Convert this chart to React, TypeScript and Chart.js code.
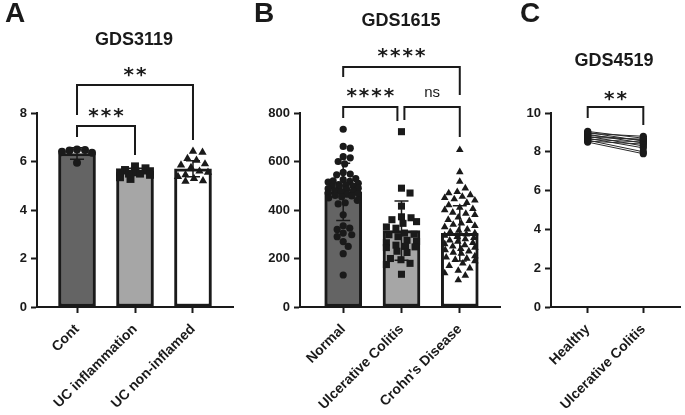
import React, { useEffect, useRef } from 'react';
import { Chart, registerables } from 'chart.js';

Chart.register(...registerables);

const FONT = '"Liberation Sans", Arial, Helvetica, sans-serif';
const INK = '#1a1a1a';

// ---------- Panel A : GDS3119 ----------
const catsA = ['Cont', 'UC inflammation', 'UC non-inflamed'];
const meansA = [6.33, 5.57, 5.7];
const sdsA = [0.24, 0.15, 0.33];
const contA = [6.47, 6.45, 6.5, 6.4, 6.36, 5.95];
const ucInflA = [5.8, 5.72, 5.65, 5.6, 5.58, 5.55, 5.5, 5.5, 5.45, 5.35, 5.28];
const ucNonA = [6.38, 6.42, 6.12, 6.05, 5.9, 5.85, 5.75, 5.6, 5.55, 5.45, 5.38, 5.3, 5.2, 5.18];
const ticksMaxA = 8;

// ---------- Panel B : GDS1615 ----------
const catsB = ['Normal', 'Ulcerative Colitis', "Crohn's Disease"];
const meansB = [475, 315, 304];
const sdsB = [118, 122, 114];
const normalB = [733, 662, 655, 620, 615, 600, 590, 555, 548, 545, 530, 525, 520, 518, 515, 510, 505, 502, 500, 498, 495, 490, 488, 485, 480, 478, 475, 470, 468, 465, 460, 458, 455, 450, 440, 430, 425, 380, 335, 325, 320, 305, 298, 290, 270, 250, 220, 132];
const ucB = [723, 490, 470, 416, 372, 368, 360, 352, 345, 330, 325, 305, 300, 298, 290, 275, 270, 265, 255, 250, 248, 245, 230, 225, 200, 195, 180, 175, 135];
const cdB = [648, 557, 517, 490, 475, 470, 462, 455, 450, 445, 440, 430, 420, 410, 405, 400, 390, 385, 380, 370, 360, 355, 345, 340, 335, 330, 320, 315, 310, 305, 300, 295, 290, 285, 280, 275, 270, 265, 260, 255, 250, 245, 240, 235, 230, 225, 220, 210, 205, 200, 195, 190, 180, 170, 160, 150, 140, 130, 111];
const ticksMaxB = 800;

// ---------- Panel C : GDS4519 ----------
const catsC = ['Healthy', 'Ulcerative Colitis'];
const healthyC = [9.05, 9.0, 8.95, 8.9, 8.85, 8.8, 8.75, 8.7, 8.65, 8.6, 8.55, 8.5];
const ucC = [8.7, 8.55, 8.8, 8.45, 8.6, 8.3, 8.65, 8.2, 8.5, 8.0, 8.4, 7.9];
const ticksMaxC = 10;

type Bracket = { x1: number; x2: number; top: number; l: number; r: number; text: string };
const bracketsA: Bracket[] = [
  { x1: 0, x2: 1, top: 7.46, l: 7.01, r: 6.27, text: '***' },
  { x1: 0, x2: 2, top: 9.155, l: 7.92, r: 6.89, text: '**' },
];
const bracketsB: Bracket[] = [
  { x1: 0, x2: 0.93, top: 825, l: 779, r: 767, text: '****' },
  { x1: 1.05, x2: 2, top: 825, l: 771, r: 701, text: 'ns' },
  { x1: 0, x2: 2, top: 990, l: 948, r: 874, text: '****' },
];
const bracketsC: Bracket[] = [{ x1: 0, x2: 1, top: 10.31, l: 9.74, r: 9.38, text: '**' }];

// deterministic beeswarm offsets (in category units)
function swarm(values: number[], pxPerY: number, pxPerX: number, r: number, maxPx: number): number[] {
  const order = values.map((_, i) => i).sort((a, b) => values[b] - values[a]);
  const placed: { x: number; y: number }[] = [];
  const out = new Array(values.length).fill(0);
  const cands: number[] = [0];
  for (let s = 0.5; s <= maxPx; s += 0.5) { cands.push(s, -s); }
  for (const i of order) {
    const y = values[i] * pxPerY;
    let best = 0;
    let bestScore = Infinity;
    for (const off of cands) {
      let overlap = 0;
      for (const p of placed) {
        const d = Math.hypot(p.x - off, p.y - y);
        if (d < 2 * r) overlap += 2 * r - d;
      }
      const score = overlap * 50 + Math.abs(off);
      if (score < bestScore) { bestScore = score; best = off; }
    }
    placed.push({ x: best, y });
    out[i] = best / pxPerX;
  }
  return out;
}

const bracketPlugin = {
  id: 'brackets',
  afterDraw(chart: any, _args: any, opts: any) {
    const list: Bracket[] = opts.list || [];
    const { ctx } = chart;
    const x = chart.scales.x;
    const y = chart.scales.y;
    ctx.save();
    ctx.strokeStyle = INK;
    ctx.fillStyle = INK;
    ctx.lineWidth = 2;
    for (const b of list) {
      const x1 = x.getPixelForValue(b.x1);
      const x2 = x.getPixelForValue(b.x2);
      const yt = y.getPixelForValue(b.top);
      const yl = y.getPixelForValue(b.l);
      const yr = y.getPixelForValue(b.r);
      ctx.beginPath();
      ctx.moveTo(x1, yl);
      ctx.lineTo(x1, yt);
      ctx.lineTo(x2, yt);
      ctx.lineTo(x2, yr);
      ctx.stroke();
      const star = b.text.indexOf('*') >= 0;
      ctx.font = star ? 'bold 20px "DejaVu Sans"' : `15px ${FONT}`;
      (ctx as any).letterSpacing = star ? '2px' : '0px';
      ctx.textAlign = 'center';
      ctx.textBaseline = 'alphabetic';
      const m = ctx.measureText(b.text);
      const cy = yt - (opts.gap || 13);
      ctx.fillText(b.text, (x1 + x2) / 2 + (star ? 1 : 0), cy + (m.actualBoundingBoxAscent - m.actualBoundingBoxDescent) / 2);
    }
    ctx.restore();
  },
};

const errorBarPlugin = {
  id: 'errbars',
  afterDatasetDraw(chart: any, args: any, opts: any) {
    if (!args.meta || args.meta.type !== 'bar') return;
    const means: number[] = opts.means || [];
    const sds: number[] = opts.sds || [];
    const { ctx } = chart;
    const x = chart.scales.x;
    const y = chart.scales.y;
    const cap = 7;
    ctx.save();
    ctx.strokeStyle = INK;
    ctx.lineWidth = 1.5;
    means.forEach((m, i) => {
      const px = x.getPixelForValue(i);
      const t = y.getPixelForValue(m + sds[i]);
      const bt = y.getPixelForValue(m - sds[i]);
      ctx.beginPath();
      ctx.moveTo(px, t);
      ctx.lineTo(px, bt);
      ctx.moveTo(px - cap, t);
      ctx.lineTo(px + cap, t);
      ctx.moveTo(px - cap, bt);
      ctx.lineTo(px + cap, bt);
      ctx.stroke();
    });
    ctx.restore();
  },
};

const gridCfg = {
  display: true,
  drawOnChartArea: false,
  drawTicks: true,
  tickLength: 6,
  tickWidth: 2,
  tickColor: INK,
  offset: false,
};
const borderCfg = { display: true, color: INK, width: 2 };

function xScale(min: number, max: number, cats: string[], axisH: number) {
  return {
    type: 'linear',
    min,
    max,
    offset: false,
    afterBuildTicks: (s: any) => { s.ticks = cats.map((_, i) => ({ value: i })); },
    afterFit: (s: any) => { s.height = axisH; },
    grid: gridCfg,
    border: borderCfg,
    ticks: {
      autoSkip: false,
      maxRotation: 45,
      minRotation: 45,
      padding: 8,
      color: INK,
      font: { family: FONT, size: 14, weight: 'bold' },
      callback: (_v: any, i: number) => cats[i],
    },
  };
}

function yScale(max: number, step: number, axisW: number) {
  return {
    type: 'linear',
    min: 0,
    max,
    afterFit: (s: any) => { s.width = axisW; },
    grid: gridCfg,
    border: borderCfg,
    ticks: { stepSize: step, padding: 4, color: INK, font: { family: FONT, size: 13, weight: 'bold' } },
  };
}

const W = 685;
const H = 415;
const AXIS_TOP = 113;
const AXIS_H = H - 307;

function barConfig(opts: {
  cats: string[]; means: number[]; sds: number[]; groups: number[][]; colors: string[];
  styles: string[]; radii: number[]; yMax: number; yStep: number; xMin: number; xMax: number;
  left: number; yW: number; right: number; brackets: Bracket[]; pxPerY: number; gap: number;
}) {
  const pointSets = opts.groups.map((vals, g) => {
    const jit = swarm(vals, opts.pxPerY, 58, opts.radii[g] * 0.95, 15);
    return {
      type: 'scatter',
      order: 1,
      data: vals.map((v, i) => ({ x: g + jit[i], y: v })),
      pointStyle: opts.styles[g],
      pointRadius: opts.radii[g],
      pointBackgroundColor: INK,
      pointBorderColor: INK,
      pointBorderWidth: 0,
      showLine: false,
    };
  });
  return {
    type: 'bar',
    data: {
      datasets: [
        {
          type: 'bar',
          order: 2,
          data: opts.means.map((m, i) => ({ x: i, y: m })),
          backgroundColor: opts.colors,
          borderColor: INK,
          borderWidth: 3,
          borderSkipped: false,
          barThickness: 37,
        },
        ...pointSets,
      ],
    },
    options: {
      animation: false,
      responsive: false,
      events: [],
      layout: { padding: { left: opts.left, top: AXIS_TOP, right: opts.right, bottom: 0 } },
      plugins: {
        legend: { display: false },
        tooltip: { enabled: false },
        title: { display: false },
        brackets: { list: opts.brackets, gap: opts.gap },
        errbars: { means: opts.means, sds: opts.sds },
      },
      scales: {
        x: xScale(opts.xMin, opts.xMax, opts.cats, AXIS_H),
        y: yScale(opts.yMax, opts.yStep, opts.yW),
      },
    },
    plugins: [bracketPlugin, errorBarPlugin],
  };
}

function lineConfig() {
  return {
    type: 'line',
    data: {
      datasets: healthyC.map((h, i) => ({
        data: [{ x: 0, y: h }, { x: 1, y: ucC[i] }],
        borderColor: '#2a2a2a',
        borderWidth: 1,
        pointRadius: 3.6,
        pointBackgroundColor: INK,
        pointBorderWidth: 0,
        fill: false,
      })),
    },
    options: {
      animation: false,
      responsive: false,
      events: [],
      layout: { padding: { left: 551 - 40, top: AXIS_TOP, right: W - 680, bottom: 0 } },
      plugins: {
        legend: { display: false },
        tooltip: { enabled: false },
        brackets: { list: bracketsC, gap: 11 },
      },
      scales: {
        x: xScale(-0.66, 1.66, catsC, AXIS_H),
        y: yScale(ticksMaxC, 2, 40),
      },
    },
    plugins: [bracketPlugin],
  };
}

function ChartCanvas({ make }: { make: () => any }) {
  const ref = useRef<HTMLCanvasElement | null>(null);
  useEffect(() => {
    if (!ref.current) return;
    const chart = new Chart(ref.current, make());
    return () => chart.destroy();
  }, []);
  return (
    <canvas
      ref={ref}
      width={W}
      height={H}
      style={{ position: 'absolute', left: 0, top: 0, width: W, height: H }}
    />
  );
}

function Txt({ text, left, top, size, center }: { text: string; left: number; top: number; size: number; center?: boolean }) {
  return (
    <div
      style={{
        position: 'absolute',
        left,
        top,
        font: `bold ${size}px ${FONT}`,
        lineHeight: 1,
        color: INK,
        whiteSpace: 'nowrap',
        transform: center ? 'translateX(-50%)' : undefined,
      }}
    >
      {text}
    </div>
  );
}

export default function App() {
  const makeA = () =>
    barConfig({
      cats: catsA, means: meansA, sds: sdsA, groups: [contA, ucInflA, ucNonA],
      colors: ['#646464', '#a6a6a6', '#ffffff'], styles: ['circle', 'rect', 'triangle'],
      radii: [4, 5.6, 4.8], yMax: ticksMaxA, yStep: 2, xMin: -0.69, xMax: 2.69,
      left: 0, yW: 37, right: W - 233, brackets: bracketsA, pxPerY: 194 / ticksMaxA, gap: 13,
    });
  const makeB = () =>
    barConfig({
      cats: catsB, means: meansB, sds: sdsB, groups: [normalB, ucB, cdB],
      colors: ['#646464', '#a6a6a6', '#ffffff'], styles: ['circle', 'rect', 'triangle'],
      radii: [3.6, 5, 4.4], yMax: ticksMaxB, yStep: 200, xMin: -0.741, xMax: 2.69,
      left: 300 - 40, yW: 40, right: W - 500, brackets: bracketsB, pxPerY: 194 / ticksMaxB, gap: 14,
    });
  return (
    <div style={{ position: 'fixed', left: 0, top: 0, width: W, height: H, background: '#fff', overflow: 'hidden' }}>
      <ChartCanvas make={makeA} />
      <ChartCanvas make={makeB} />
      <ChartCanvas make={lineConfig} />
      <Txt text="A" left={5} top={-1} size={28} />
      <Txt text="B" left={254} top={-1} size={28} />
      <Txt text="C" left={520} top={-1} size={28} />
      <Txt text="GDS3119" left={134} top={30} size={18} center />
      <Txt text="GDS1615" left={401} top={11} size={18} center />
      <Txt text="GDS4519" left={614} top={51} size={18} center />
    </div>
  );
}
